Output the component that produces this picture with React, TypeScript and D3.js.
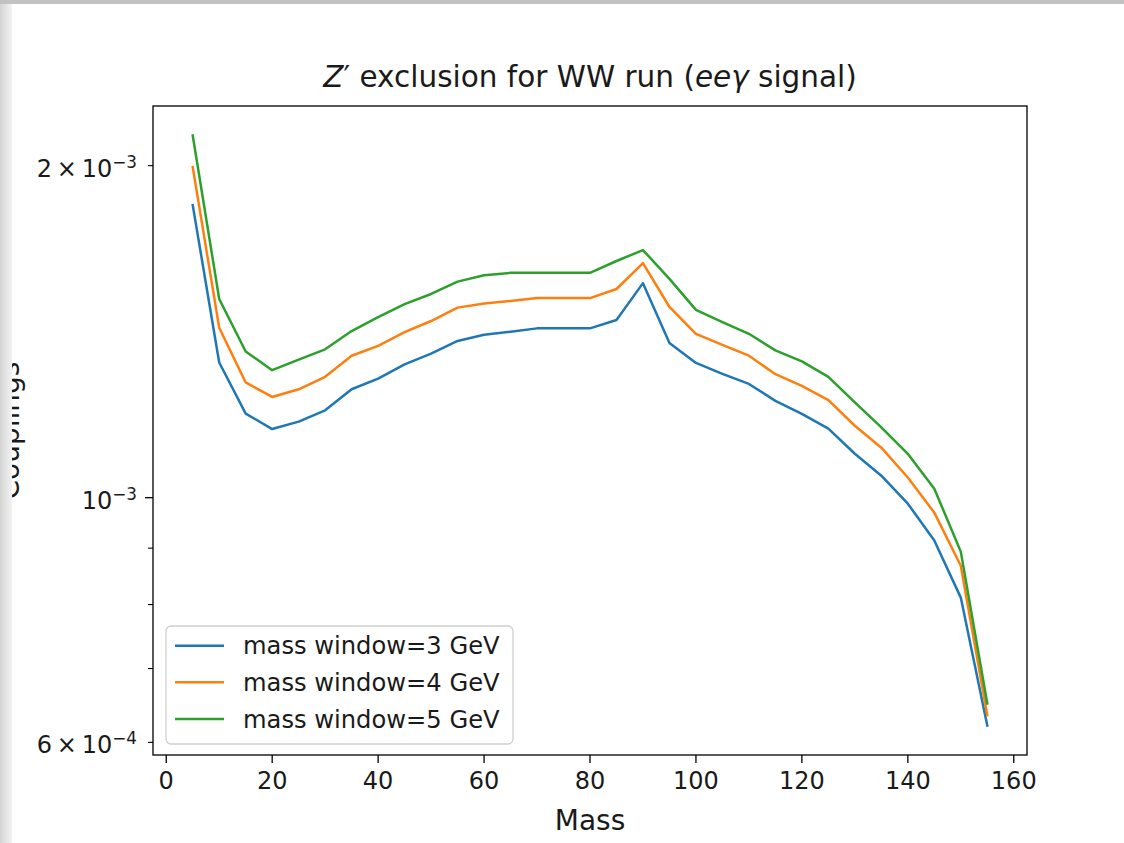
import React from 'react';
import * as d3 from 'd3';

const masses = [5, 10, 15, 20, 25, 30, 35, 40, 45, 50, 55, 60, 65, 70, 75, 80, 85, 90, 95, 100, 105, 110, 115, 120, 125, 130, 135, 140, 145, 150, 155];
const window3 = [1.842, 1.326, 1.192, 1.154, 1.172, 1.2, 1.254, 1.282, 1.321, 1.351, 1.387, 1.405, 1.414, 1.424, 1.424, 1.424, 1.449, 1.565, 1.381, 1.325, 1.295, 1.268, 1.224, 1.191, 1.155, 1.096, 1.047, 0.9876, 0.9143, 0.8117, 0.6215].map(v => v * 1e-3);
const window4 = [1.994, 1.426, 1.272, 1.234, 1.254, 1.287, 1.345, 1.373, 1.413, 1.446, 1.487, 1.5, 1.508, 1.517, 1.517, 1.517, 1.546, 1.632, 1.489, 1.408, 1.376, 1.345, 1.294, 1.263, 1.226, 1.162, 1.11, 1.043, 0.9692, 0.8676, 0.6348].map(v => v * 1e-3);
const window5 = [2.13, 1.514, 1.357, 1.305, 1.334, 1.363, 1.416, 1.458, 1.498, 1.53, 1.57, 1.591, 1.599, 1.599, 1.599, 1.599, 1.639, 1.677, 1.579, 1.48, 1.443, 1.408, 1.36, 1.329, 1.287, 1.22, 1.158, 1.096, 1.019, 0.8935, 0.6508].map(v => v * 1e-3);
const seriesLabels = ['mass window=3 GeV', 'mass window=4 GeV', 'mass window=5 GeV'];
const seriesColors = ['#1f77b4', '#ff7f0e', '#2ca02c'];
const xTicks = [0, 20, 40, 60, 80, 100, 120, 140, 160];
const yLabeledTicks = [
  { v: 2e-3, mant: '2\u2009×\u200910', exp: '\u22123', minor: true },
  { v: 1e-3, mant: '10', exp: '\u22123', minor: false },
  { v: 6e-4, mant: '6\u2009×\u200910', exp: '\u22124', minor: true },
];
const yMinorTicks = [7e-4, 8e-4, 9e-4];

const W = 1124, H = 843;
const L = 153, R = 1027, T = 106, B = 755;
const FONT = '"DejaVu Sans", Verdana, sans-serif';

export default function App() {
  const all = [...window3, ...window4, ...window5];
  const xMin = d3.min(masses)!, xMax = d3.max(masses)!;
  const xPad = (xMax - xMin) * 0.05;
  const x = d3.scaleLinear().domain([xMin - xPad, xMax + xPad]).range([L, R]);
  const lmin = Math.log10(d3.min(all)!), lmax = Math.log10(d3.max(all)!);
  const lpad = (lmax - lmin) * 0.05;
  const y = d3.scaleLog().domain([Math.pow(10, lmin - lpad), Math.pow(10, lmax + lpad)]).range([B, T]);
  const series = [window3, window4, window5];
  const line = (vals: number[]) =>
    d3.line<number>().x((_, i) => x(masses[i])).y(d => y(d))(vals) || '';

  const legX = 166, legY = 626, legW = 347, legH = 118;
  const rowY = [645.7, 682.3, 719];

  return (
    <svg width={W} height={H} style={{ position: 'absolute', left: 0, top: 0, background: '#fff' }} fontFamily={FONT}>
      <defs>
        <linearGradient id="leftEdge" x1="0" x2="1" y1="0" y2="0">
          <stop offset="0" stopColor="#d4d4d4" />
          <stop offset="1" stopColor="#f3f3f3" />
        </linearGradient>
        <clipPath id="plotClip">
          <rect x={L} y={T} width={R - L} height={B - T} />
        </clipPath>
      </defs>
      <rect x={0} y={0} width={W} height={H} fill="#fff" />

      {/* Title */}
      <text x={(L + R) / 2} y={87} textAnchor="middle" fontSize={29.5} fill="#1a1a1a">
        <tspan fontStyle="italic">Z</tspan>
        <tspan>′ exclusion for WW run (</tspan>
        <tspan fontStyle="italic">eeγ</tspan>
        <tspan> signal)</tspan>
      </text>

      {/* lines */}
      <g clipPath="url(#plotClip)">
        {series.map((s, i) => (
          <path key={i} d={line(s)} fill="none" stroke={seriesColors[i]} strokeWidth={2.5} strokeLinejoin="round" strokeLinecap="square" />
        ))}
      </g>

      {/* axes frame */}
      <rect x={L} y={T} width={R - L} height={B - T} fill="none" stroke="#000" strokeWidth={1.3} />

      {/* x ticks */}
      {xTicks.map(t => (
        <g key={t}>
          <line x1={x(t)} x2={x(t)} y1={B} y2={B + 8} stroke="#000" strokeWidth={1.3} />
          <text x={x(t)} y={789} textAnchor="middle" fontSize={24} fill="#1a1a1a">{t}</text>
        </g>
      ))}
      <text x={(L + R) / 2} y={830} textAnchor="middle" fontSize={28} fill="#1a1a1a">Mass</text>

      {/* y ticks */}
      {yMinorTicks.map(t => (
        <line key={t} x1={L - 5} x2={L} y1={y(t)} y2={y(t)} stroke="#000" strokeWidth={1.1} />
      ))}
      {yLabeledTicks.map(t => (
        <g key={t.v}>
          <line x1={L - (t.minor ? 5 : 8)} x2={L} y1={y(t.v)} y2={y(t.v)} stroke="#000" strokeWidth={t.minor ? 1.1 : 1.3} />
          <text x={137} y={y(t.v) + 11} textAnchor="end" fontSize={24} fill="#1a1a1a">
            <tspan>{t.mant}</tspan>
            <tspan fontSize={16.8} dy={-9}>{t.exp}</tspan>
          </text>
        </g>
      ))}
      <text transform={`translate(19, ${(T + B) / 2}) rotate(-90)`} textAnchor="middle" fontSize={28} fill="#1a1a1a">Couplings</text>

      {/* legend */}
      <rect x={legX} y={legY} width={legW} height={legH} rx={5} ry={5} fill="#fff" fillOpacity={0.8} stroke="#d0d0d0" strokeWidth={1.3} />
      {seriesLabels.map((lab, i) => (
        <g key={lab}>
          <line x1={175} x2={224} y1={rowY[i]} y2={rowY[i]} stroke={seriesColors[i]} strokeWidth={2.5} />
          <text x={243} y={rowY[i] + 8.5} fontSize={24.2} fill="#1a1a1a">{lab}</text>
        </g>
      ))}

      {/* screenshot frame edges */}
      <rect x={0} y={0} width={12} height={H} fill="url(#leftEdge)" />
      <rect x={0} y={0} width={W} height={4} fill="#c2c2c2" />
    </svg>
  );
}
